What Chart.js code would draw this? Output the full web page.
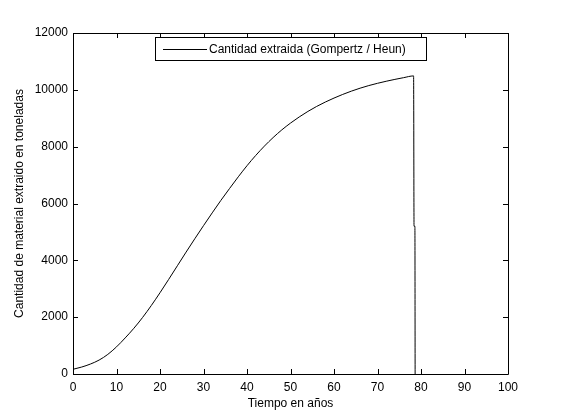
<!DOCTYPE html>
<html>
<head>
<meta charset="utf-8">
<script src="https://cdn.jsdelivr.net/npm/chart.js@4"></script>
<style>
  html, body { margin: 0; padding: 0; background: #fff; }
  #wrap { width: 561px; height: 420px; }
</style>
</head>
<body>
<div id="wrap"><canvas id="myChart" width="561" height="420"></canvas></div>
<script>
// values
var years = [0, 2, 4, 6, 8, 10, 12, 14, 16, 18, 20, 22, 24, 26, 28, 30, 32, 34, 36, 38,
    40, 42, 44, 46, 48, 50, 52, 54, 56, 58, 60, 62, 64, 66, 68, 70, 72, 74, 76, 78.3,
    78.4, 78.6, 78.65];
var extracted = [165, 245, 350, 490, 690, 955, 1270, 1610, 1990, 2410, 2860, 3330, 3810, 4290, 4760, 5220, 5670, 6110, 6530, 6940,
    7330, 7690, 8020, 8320, 8590, 8830, 9045, 9240, 9415, 9570, 9710, 9838, 9954, 10058, 10150, 10230, 10302, 10368, 10428, 10490,
    5200, 5200, 0];
var xTicks = [0, 10, 20, 30, 40, 50, 60, 70, 80, 90, 100];
var yTicks = [0, 2000, 4000, 6000, 8000, 10000, 12000];
var seriesName = 'Cantidad extraida (Gompertz / Heun)';

var points = years.map(function (x, i) { return { x: x, y: extracted[i] }; });
var font = { family: '"Liberation Sans", Arial, sans-serif', size: 12 };

// matlab style box, inward ticks and legend
var matlabBox = {
    id: 'matlabBox',
    afterDraw: function (chart) {
        var c = chart.ctx, a = chart.chartArea;
        var xs = chart.scales.x, ys = chart.scales.y;
        c.save();
        c.strokeStyle = '#000';
        c.lineWidth = 1;
        c.beginPath();
        c.rect(Math.round(a.left) + 0.5, Math.round(a.top) + 0.5,
            Math.round(a.right - a.left), Math.round(a.bottom - a.top));
        xTicks.forEach(function (t) {
            var px = Math.round(xs.getPixelForValue(t)) + 0.5;
            c.moveTo(px, a.bottom); c.lineTo(px, a.bottom - 5);
            c.moveTo(px, a.top); c.lineTo(px, a.top + 5);
        });
        yTicks.forEach(function (t) {
            var py = Math.round(ys.getPixelForValue(t)) + 0.5;
            c.moveTo(a.left, py); c.lineTo(a.left + 5, py);
            c.moveTo(a.right, py); c.lineTo(a.right - 5, py);
        });
        c.stroke();

        // legend box
        var lx = 155.5, ly = 37.5, lw = 271, lh = 23;
        c.fillStyle = '#fff';
        c.fillRect(lx, ly, lw, lh);
        c.strokeRect(lx, ly, lw, lh);
        c.beginPath();
        c.moveTo(163, 49.5); c.lineTo(207, 49.5);
        c.stroke();
        c.fillStyle = '#000';
        c.font = font.size + 'px ' + font.family;
        c.textBaseline = 'middle';
        c.fillText(seriesName, 209, 49.5);
        c.restore();
    }
};

var ctx = document.getElementById('myChart').getContext('2d');

var myChart = new Chart(ctx, {
    type: 'scatter',
    data: {
        datasets: [{
            label: seriesName,
            data: points,
            showLine: true,
            borderColor: '#000',
            borderWidth: 1,
            pointRadius: 0,
            cubicInterpolationMode: 'monotone'
        }]
    },
    options: {
        responsive: false,
        animation: false,
        layout: {
            padding: { top: 33, right: 53, bottom: 0, left: 0 }
        },
        plugins: {
            legend: { display: false },
            tooltip: { enabled: false }
        },
        scales: {
            x: {
                type: 'linear',
                min: 0,
                max: 100,
                afterBuildTicks: function (s) { s.ticks = xTicks.map(function (v) { return { value: v }; }); },
                afterFit: function (s) { s.height = 46; },
                grid: { display: false, drawTicks: false },
                border: { display: false },
                ticks: { color: '#000', font: font, padding: 6, maxRotation: 0 },
                title: {
                    display: true,
                    text: 'Tiempo en años',
                    color: '#000',
                    font: font,
                    padding: { top: 3, bottom: 9 }
                }
            },
            y: {
                type: 'linear',
                min: 0,
                max: 12000,
                afterBuildTicks: function (s) { s.ticks = yTicks.map(function (v) { return { value: v }; }); },
                afterFit: function (s) { s.width = 73; },
                grid: { display: false, drawTicks: false },
                border: { display: false },
                ticks: {
                    color: '#000', font: font, padding: 5,
                    callback: function (v) { return String(v); }
                },
                title: {
                    display: true,
                    text: 'Cantidad de material extraido en toneladas',
                    color: '#000',
                    font: font,
                    padding: { top: 12, bottom: 0 }
                }
            }
        }
    },
    plugins: [matlabBox]
});
</script>
</body>
</html>
